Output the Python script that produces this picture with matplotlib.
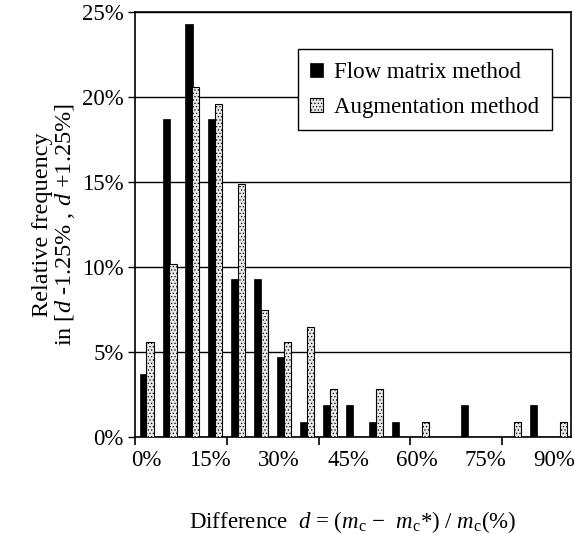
import numpy as np
import matplotlib
matplotlib.use("Agg")
import matplotlib.pyplot as plt
import matplotlib.transforms as mtransforms
from matplotlib.ticker import FixedLocator, FixedFormatter

plt.rcParams['font.family'] = 'Liberation Serif'
plt.rcParams['mathtext.fontset'] = 'custom'
plt.rcParams['mathtext.rm'] = 'Liberation Serif'
plt.rcParams['mathtext.it'] = 'Liberation Serif:italic'
plt.rcParams['hatch.color'] = '#999999'
plt.rcParams['hatch.linewidth'] = 0.5

# difference bins (%), every 5%
bins = [0, 5, 10, 15, 20, 25, 30, 35, 40, 45, 50, 55, 60, 65, 70, 75, 80, 85, 90]
flow_matrix = [3.7, 18.7, 24.3, 18.7, 9.3, 9.3, 4.7, 0.9, 1.9, 1.9, 0.9, 0.9,
               0, 0, 1.9, 0, 0, 1.9, 0]
augmentation = [5.6, 10.2, 20.6, 19.6, 14.9, 7.5, 5.6, 6.5, 2.8, 0, 2.8, 0,
                0.9, 0, 0, 0, 0.9, 0, 0.9]
x_labels = ["0%", "15%", "30%", "45%", "60%", "75%", "90%"]
y_ticks = [0, 5, 10, 15, 20, 25]

fig = plt.figure(figsize=(5.75, 5.34), dpi=100)
ax = fig.add_axes([0.2348, 0.1816, 0.7582, 0.7959])

x = np.arange(len(bins))
w = 0.31
ax.bar(x - w / 2 + 0.01, flow_matrix, w, color='black', edgecolor='black',
       linewidth=0.5, label="Flow matrix method", zorder=3)
ax.bar(x + w / 2, augmentation, w, facecolor='#e8e8e8', edgecolor='black',
       linewidth=0.8, hatch='.....', label="Augmentation method", zorder=3)

ax.set_xlim(-0.5, len(bins) - 0.5)
ax.set_ylim(0, 25)

# labels every 3 bins, tick marks every 4 bin boundaries (as in the original)
ax.xaxis.set_major_locator(FixedLocator(x[::3]))
ax.xaxis.set_major_formatter(FixedFormatter(x_labels))
ax.xaxis.set_minor_locator(FixedLocator(np.arange(-0.5, len(bins), 4)))
ax.tick_params(axis='x', which='major', length=0, labelsize=16.5, pad=9)
ax.tick_params(axis='x', which='minor', length=6, width=1.2, direction='out')
shift = mtransforms.ScaledTranslation(-5 / 100, 0, fig.dpi_scale_trans)
for i, lab in enumerate(ax.get_xticklabels()):
    if i > 0:
        lab.set_transform(lab.get_transform() + shift)

ax.set_yticks(y_ticks)
ax.set_yticklabels([f"{v}%" for v in y_ticks])
ax.tick_params(axis='y', length=5, width=1, direction='out', labelsize=16.5, pad=3)

ax.grid(axis='y', color='black', linewidth=1.0, zorder=0)
for s in ax.spines.values():
    s.set_color('black')
    s.set_linewidth(1.2)

ax.set_ylabel("Relative frequency\nin [$d$ -1.25% , $d$ +1.25%]",
              fontsize=17.5, linespacing=0.95, labelpad=4)
ax.set_xlabel(r"Difference  $d$ = ($m_{\rm c}$ −  $m_{\rm c}$*) / $m_{\rm c}$(%)",
              fontsize=16.5, labelpad=28)

leg = ax.legend(loc='upper right', bbox_to_anchor=(0.957, 0.912), fontsize=16.5,
                frameon=True, fancybox=False, edgecolor='black', framealpha=1,
                handlelength=0.55, handleheight=0.55, handletextpad=0.5,
                borderpad=0.55, labelspacing=0.6, borderaxespad=0)
leg.get_frame().set_linewidth(1.0)
leg.set_zorder(5)

fig.savefig("out.png", dpi=100)
